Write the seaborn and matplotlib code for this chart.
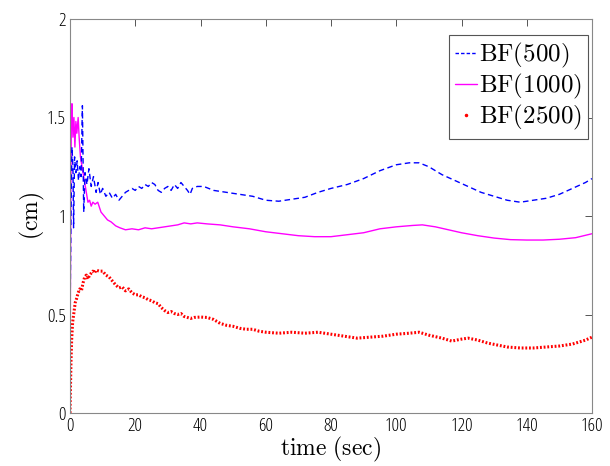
import matplotlib
matplotlib.use("Agg")
import matplotlib.pyplot as plt
from matplotlib.lines import Line2D
from matplotlib import font_manager as fm
import seaborn as sns
import pandas as pd

# ---- data ----
t_bf500 = [0, 0.3, 0.6, 0.9, 1.1, 1.4, 1.8, 2.2, 2.6, 3.0, 3.4, 3.8, 4.2, 4.6, 5.2, 5.8,
           6.5, 7.2, 8, 8.6, 9.3, 10, 11, 12, 13, 14, 15, 16, 17, 18, 19, 20, 21, 22, 23,
           24, 25, 26, 27, 28, 29, 30, 31, 32, 33, 34, 35, 36, 36.8, 37.5, 39, 41, 44, 48,
           52, 56, 60, 64, 68, 72, 76, 80, 85, 90, 95, 100, 104, 107, 110, 114, 118, 122,
           126, 130, 134, 138, 142, 146, 150, 154, 158, 160]
v_bf500 = [0.45, 1.00, 1.35, 1.25, 0.94, 1.30, 1.22, 1.28, 1.18, 1.25, 1.20, 1.56, 1.02, 1.22,
           1.16, 1.24, 1.15, 1.20, 1.12, 1.17, 1.11, 1.14, 1.10, 1.12, 1.09, 1.11, 1.08, 1.10,
           1.12, 1.13, 1.14, 1.13, 1.15, 1.14, 1.16, 1.15, 1.17, 1.16, 1.13, 1.12, 1.14, 1.15,
           1.13, 1.16, 1.14, 1.17, 1.15, 1.13, 1.11, 1.14, 1.15, 1.15, 1.13, 1.12, 1.11, 1.10,
           1.08, 1.075, 1.085, 1.095, 1.12, 1.14, 1.16, 1.19, 1.23, 1.26, 1.27, 1.27, 1.25,
           1.21, 1.18, 1.15, 1.12, 1.10, 1.08, 1.07, 1.08, 1.09, 1.11, 1.14, 1.17, 1.19]

t_bf1000 = [0, 0.2, 0.4, 0.6, 0.9, 1.2, 1.5, 1.8, 2.1, 2.5, 2.8, 3.2, 3.6, 4.0, 4.5, 5.0, 5.5,
            6, 6.5, 7, 7.7, 8.5, 9.5, 10.5, 11.5, 12.6, 14, 15.3, 17, 19, 21, 23, 25, 27, 29,
            31, 33, 35, 37, 39, 42, 46, 50, 55, 60, 65, 70, 75, 80, 85, 90, 95, 100, 105, 108,
            112, 116, 120, 125, 130, 135, 140, 145, 150, 155, 160]
v_bf1000 = [0.0, 1.00, 1.45, 1.57, 1.40, 1.50, 1.35, 1.48, 1.42, 1.50, 1.40, 1.30, 1.26, 1.22,
            1.17, 1.12, 1.07, 1.08, 1.05, 1.07, 1.06, 1.07, 1.02, 1.00, 0.98, 0.97, 0.95, 0.94,
            0.93, 0.935, 0.93, 0.94, 0.935, 0.94, 0.945, 0.95, 0.955, 0.965, 0.96, 0.965, 0.96,
            0.955, 0.945, 0.935, 0.92, 0.91, 0.90, 0.895, 0.895, 0.905, 0.915, 0.935, 0.945,
            0.952, 0.955, 0.945, 0.93, 0.915, 0.90, 0.888, 0.88, 0.878, 0.878, 0.882, 0.89, 0.91]

t_bf2500 = [0, 0.1, 0.3, 0.5, 0.8, 1.2, 1.6, 2.0, 2.5, 3, 3.5, 4, 4.5, 5, 5.5, 6, 6.5, 7, 7.5,
            8, 9, 10, 11, 12, 13, 14, 15, 16, 17, 18, 19, 20, 21, 22, 23, 24, 25, 26, 27, 28,
            29, 30, 31, 32, 33, 34, 35, 36, 37, 38, 40, 42, 44, 46, 48, 50, 52, 54, 56, 58, 60,
            64, 68, 72, 76, 80, 84, 88, 92, 96, 100, 104, 107, 110, 114, 117, 120, 122, 125,
            128, 131, 134, 138, 142, 146, 150, 154, 158, 160]
v_bf2500 = [0.0, 0.10, 0.26, 0.37, 0.46, 0.51, 0.56, 0.58, 0.61, 0.63, 0.62, 0.66, 0.69, 0.70,
            0.68, 0.70, 0.71, 0.72, 0.71, 0.725, 0.72, 0.72, 0.70, 0.69, 0.67, 0.65, 0.635, 0.64,
            0.62, 0.63, 0.61, 0.60, 0.60, 0.59, 0.585, 0.575, 0.57, 0.56, 0.555, 0.535, 0.52,
            0.51, 0.515, 0.505, 0.50, 0.505, 0.49, 0.485, 0.48, 0.485, 0.487, 0.485, 0.475,
            0.455, 0.445, 0.44, 0.43, 0.425, 0.425, 0.415, 0.41, 0.405, 0.41, 0.405, 0.41, 0.40,
            0.39, 0.38, 0.385, 0.39, 0.40, 0.405, 0.41, 0.395, 0.38, 0.365, 0.375, 0.38, 0.37,
            0.355, 0.345, 0.335, 0.33, 0.33, 0.335, 0.34, 0.35, 0.37, 0.385]

x_ticks = [0, 20, 40, 60, 80, 100, 120, 140, 160]
y_ticks = [0, 0.5, 1, 1.5, 2]
y_tick_labels = ["0", "0.5", "1", "1.5", "2"]
labels = [r"$\mathrm{BF(500)}$", r"$\mathrm{BF(1000)}$", r"$\mathrm{BF(2500)}$"]

# ---- plot ----
sns.set_style("white")
plt.rcParams["mathtext.fontset"] = "cm"
plt.rcParams["font.family"] = ["DejaVu Sans"]
plt.rcParams["text.color"] = "black"
plt.rcParams["axes.labelcolor"] = "black"
tick_fp = fm.FontProperties(family="Open Sans", stretch="condensed", size=13.5)

fig = plt.figure(figsize=(6.1, 4.66), dpi=100)
ax = fig.add_axes([70 / 610, 53 / 466, 522 / 610, 394 / 466])

d1 = pd.DataFrame({"t": t_bf500, "v": v_bf500})
d2 = pd.DataFrame({"t": t_bf1000, "v": v_bf1000})
d3 = pd.DataFrame({"t": t_bf2500, "v": v_bf2500})

sns.lineplot(data=d3, x="t", y="v", ax=ax, color="#ff0000", lw=2.2,
             linestyle=(0, (0.6, 0.6)), estimator=None, sort=False)
sns.lineplot(data=d2, x="t", y="v", ax=ax, color="#ff00ff", lw=1.0,
             estimator=None, sort=False)
sns.lineplot(data=d1, x="t", y="v", ax=ax, color="#0000ff", lw=1.0,
             linestyle=(0, (4, 2.5)), estimator=None, sort=False)

ax.set_xlim(0, 160)
ax.set_ylim(0, 2)
ax.set_xticks(x_ticks)
ax.set_xticklabels([str(x) for x in x_ticks], fontproperties=tick_fp, color="black")
ax.set_yticks(y_ticks)
ax.set_yticklabels(y_tick_labels, fontproperties=tick_fp, color="black")
ax.tick_params(direction="in", length=5, width=0.7, color="#555555",
               top=True, right=True, pad=3)
for s in ax.spines.values():
    s.set_color("#888888")
    s.set_linewidth(0.8)

ax.set_xlabel(r"$\mathrm{time\ (sec)}$", fontsize=17, labelpad=0)
ax.set_ylabel(r"$\mathrm{(cm)}$", fontsize=17)
ax.yaxis.set_label_coords(-0.045, 0.5)

handles = [
    Line2D([], [], color="#0000ff", lw=1.0, linestyle=(0, (2.5, 1.5))),
    Line2D([], [], color="#ff00ff", lw=1.0),
    Line2D([], [], color="#ff0000", lw=0, marker=".", markersize=3),
]
leg = ax.legend(handles, labels, loc="upper right", bbox_to_anchor=(0.993, 0.96),
                fontsize=18, frameon=True, fancybox=False, framealpha=1,
                handlelength=0.85, handletextpad=0.1, borderpad=0.25,
                labelspacing=0.08, borderaxespad=0)
leg.get_frame().set_edgecolor("#555555")
leg.get_frame().set_linewidth(0.8)

fig.savefig("out.png", dpi=100)
